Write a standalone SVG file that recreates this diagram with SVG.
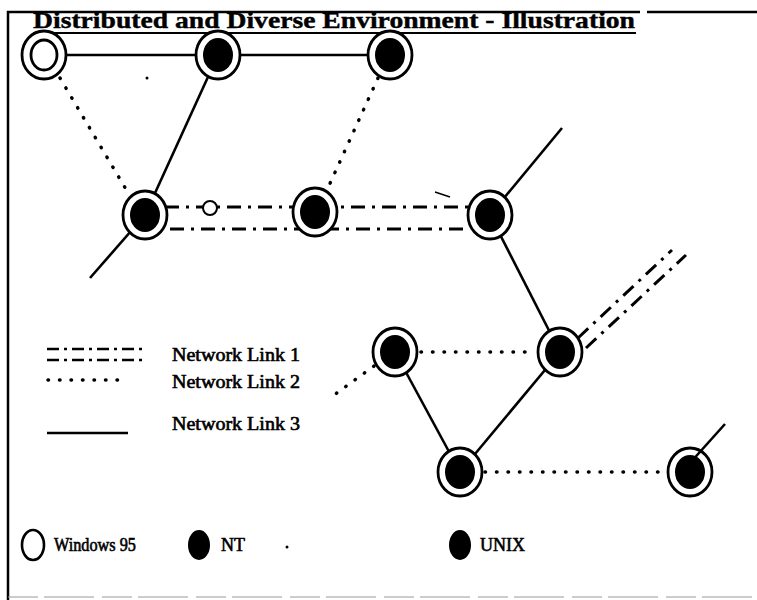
<svg xmlns="http://www.w3.org/2000/svg" width="757" height="600" viewBox="0 0 757 600">
<style>
.txt{font-family:"Liberation Serif","Times New Roman",serif;fill:#000;stroke:#000}
.title{font-size:23px;font-weight:bold;stroke-width:0.4}
.lbl{font-size:18px;stroke-width:0.6}
.l1{stroke:#000;stroke-width:3;fill:none;stroke-dasharray:14 7 3 7}
.l2{stroke:#000;stroke-width:3.5;fill:none;stroke-linecap:round;stroke-dasharray:0.5 11}
.l3{stroke:#000;stroke-width:2.6;fill:none}
.ring{fill:#fff;stroke:#000;stroke-width:2.8}
.core{fill:#000}
.open{fill:none;stroke:#000;stroke-width:2.8}
</style>
<rect width="757" height="600" fill="#fff"/>
<g id="frame" fill="none" stroke="#000">
<path d="M8,600 V12 H640 M647,12 H757" stroke-width="2.5"/>
<line x1="8" y1="597" x2="757" y2="597" stroke="#999" stroke-width="1" stroke-dasharray="30 6 50 8"/>
</g>
<g id="title">
<text class="txt title" x="33" y="28" textLength="602" lengthAdjust="spacingAndGlyphs">Distributed and Diverse Environment - Illustration</text>
<line x1="33" y1="33" x2="636" y2="33" stroke="#000" stroke-width="2"/>
</g>
<g id="connectors">
<line class="l3" x1="44" y1="55" x2="218" y2="55"/>
<line class="l3" x1="218" y1="55" x2="390" y2="55"/>
<line class="l3" x1="218" y1="55" x2="145" y2="215"/>
<line class="l3" x1="145" y1="215" x2="90" y2="278"/>
<line class="l3" x1="490" y1="215" x2="562" y2="128"/>
<line class="l3" x1="490" y1="215" x2="560" y2="352"/>
<line class="l3" x1="395" y1="352" x2="460" y2="472"/>
<line class="l3" x1="560" y1="352" x2="460" y2="472"/>
<line class="l2" x1="60" y1="78" x2="130" y2="196"/>
<line class="l2" x1="378" y1="78" x2="327" y2="190"/>
<line class="l2" x1="421" y1="352" x2="536" y2="352"/>
<line class="l2" x1="485" y1="472" x2="666" y2="472"/>
<line class="l2" x1="374" y1="366" x2="334" y2="395"/>
<line class="l1" x1="165" y1="207" x2="470" y2="207"/>
<line class="l1" x1="170" y1="229" x2="470" y2="229"/>
<line class="l1" x1="578" y1="338" x2="672" y2="250"/>
<line class="l1" x1="586" y1="348" x2="686" y2="255"/>
<line x1="435" y1="192" x2="450" y2="197" stroke="#000" stroke-width="1.5"/>
</g>
<g id="n-win95"><ellipse class="ring" cx="44" cy="55" rx="22" ry="24"/><ellipse class="open" cx="44" cy="55" rx="13" ry="15"/></g>
<g id="n-nt1"><ellipse class="ring" cx="218" cy="55" rx="22" ry="24"/><ellipse class="core" cx="218" cy="55" rx="15" ry="17"/></g>
<g id="n-nt2"><ellipse class="ring" cx="390" cy="55" rx="22" ry="24"/><ellipse class="core" cx="390" cy="55" rx="15" ry="17"/></g>
<g id="n-a"><ellipse class="ring" cx="145" cy="215" rx="22" ry="24"/><ellipse class="core" cx="145" cy="215" rx="15" ry="17"/></g>
<g id="n-b"><ellipse class="ring" cx="315" cy="212" rx="22" ry="24"/><ellipse class="core" cx="315" cy="212" rx="15" ry="17"/></g>
<g id="n-c"><ellipse class="ring" cx="490" cy="215" rx="22" ry="24"/><ellipse class="core" cx="490" cy="215" rx="15" ry="17"/></g>
<g id="n-e"><ellipse class="ring" cx="395" cy="352" rx="22" ry="24"/><ellipse class="core" cx="395" cy="352" rx="15" ry="17"/></g>
<g id="n-d"><ellipse class="ring" cx="560" cy="352" rx="22" ry="24"/><ellipse class="core" cx="560" cy="352" rx="15" ry="17"/></g>
<g id="n-f"><ellipse class="ring" cx="460" cy="472" rx="22" ry="24"/><ellipse class="core" cx="460" cy="472" rx="15" ry="17"/></g>
<g id="n-g"><ellipse class="ring" cx="690" cy="472" rx="22" ry="24"/><ellipse class="core" cx="690" cy="472" rx="15" ry="17"/><line class="l3" x1="690" y1="463" x2="725" y2="424"/></g>
<g id="n-small"><circle cx="210" cy="208" r="7" fill="#fff" stroke="#000" stroke-width="2"/></g>
<circle cx="147" cy="78" r="1.5" fill="#000"/>
<g id="legend-links">
<line x1="47" y1="349" x2="142" y2="349" stroke="#000" stroke-width="2.5" stroke-dasharray="12 5 3 5"/>
<line x1="47" y1="360" x2="142" y2="360" stroke="#000" stroke-width="2.5" stroke-dasharray="12 5 3 5"/>
<line class="l2" x1="48" y1="380" x2="125" y2="380" stroke-dasharray="0.5 12"/>
<line class="l3" x1="47" y1="433" x2="128" y2="433"/>
<text class="txt lbl" x="172" y="361" textLength="128" lengthAdjust="spacingAndGlyphs">Network Link 1</text>
<text class="txt lbl" x="172" y="388" textLength="128" lengthAdjust="spacingAndGlyphs">Network Link 2</text>
<text class="txt lbl" x="172" y="430" textLength="128" lengthAdjust="spacingAndGlyphs">Network Link 3</text>
</g>
<g id="legend-os">
<ellipse cx="33" cy="545" rx="11" ry="15" fill="none" stroke="#000" stroke-width="2.6"/>
<text class="txt lbl" x="54" y="551" textLength="82" lengthAdjust="spacingAndGlyphs">Windows 95</text>
<ellipse cx="199" cy="545" rx="11" ry="15" fill="#000"/>
<text class="txt lbl" x="221" y="551" textLength="24" lengthAdjust="spacingAndGlyphs">NT</text>
<circle cx="287" cy="547" r="1.5" fill="#000"/>
<ellipse cx="460" cy="545" rx="11" ry="15" fill="#000"/>
<text class="txt lbl" x="480" y="551" textLength="45" lengthAdjust="spacingAndGlyphs">UNIX</text>
</g>
</svg>
